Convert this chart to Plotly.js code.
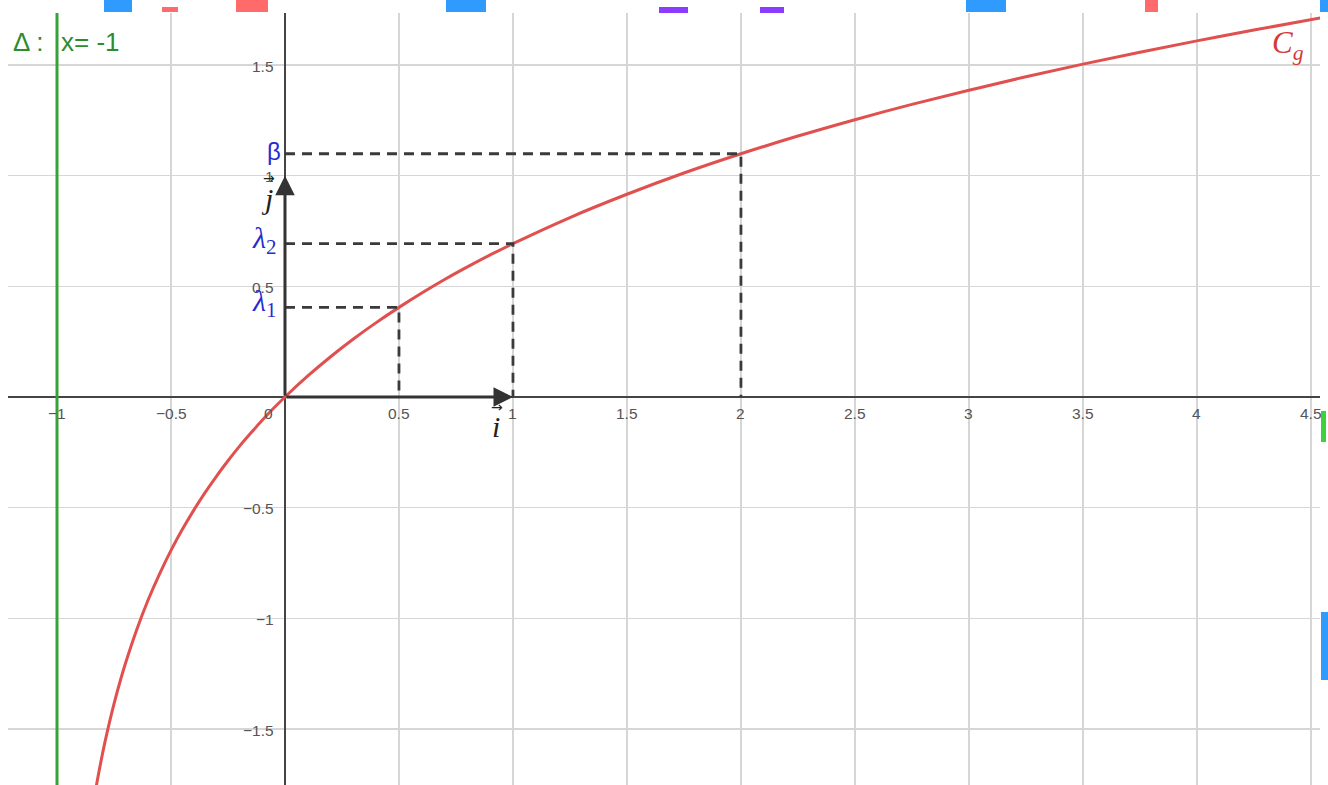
<!DOCTYPE html>
<html>
<head>
<meta charset="utf-8">
<script src="https://cdn.plot.ly/plotly-3.0.1.min.js"></script>
<style>html,body{margin:0;padding:0;background:#fff;}#chart{width:1328px;height:785px;}</style>
</head>
<body>
<div id="chart"></div>
<script>
// curve C_g
var curveX = [-0.83,-0.82,-0.8,-0.78,-0.75,-0.72,-0.7,-0.65,-0.6,-0.55,-0.5,-0.45,-0.4,-0.35,-0.3,-0.25,-0.2,-0.15,-0.1,-0.05,0,0.1,0.2,0.3,0.4,0.5,0.6,0.7,0.8,0.9,1,1.25,1.5,1.75,2,2.25,2.5,2.75,3,3.25,3.5,3.75,4,4.25,4.55];
var curveY = [-1.772,-1.715,-1.609,-1.514,-1.386,-1.273,-1.204,-1.05,-0.916,-0.799,-0.693,-0.598,-0.511,-0.431,-0.357,-0.288,-0.223,-0.163,-0.105,-0.051,0,0.095,0.182,0.262,0.336,0.405,0.47,0.531,0.588,0.642,0.693,0.811,0.916,1.012,1.099,1.179,1.253,1.322,1.386,1.447,1.504,1.558,1.609,1.658,1.714];
// marked points
var markX = [0.5, 1, 2];
var markY = [0.405, 0.693, 1.099];
var markLabels = ['<i>λ</i><sub>1</sub>', '<i>λ</i><sub>2</sub>', 'β'];
// asymptote
var asymX = -1;
var asymLabelA = 'Δ :';
var asymLabelB = 'x= -1';
var curveLabel = '<i>C</i><sub><i>g</i></sub>';
// axis tick labels
var xTicks = [-1,-0.5,0,0.5,1,1.5,2,2.5,3,3.5,4,4.5];
var xTickText = ['−1','−0.5','0','0.5','1','1.5','2','2.5','3','3.5','4','4.5'];
var yTicks = [-1.5,-1,-0.5,0.5,1,1.5];
var yTickText = ['−1.5','−1','−0.5','0.5','1','1.5'];

var W = 1328, H = 785, L = 8, R = 8, T = 13, B = 0;
var pw = W - L - R, ph = H - T - B;
function px(x){ return (x - L) / pw; }
function py(y){ return (H - B - y) / ph; }

var traces = [];
traces.push({x: curveX, y: curveY, mode: 'lines', line: {color: '#e0504e', width: 3, shape: 'spline'}, hoverinfo: 'skip'});
for (var i = 0; i < markX.length; i++) {
  traces.push({x: [0, markX[i], markX[i]], y: [markY[i], markY[i], 0], mode: 'lines',
    line: {color: '#3a3a3a', width: 2.8, dash: '10px,7px'}, hoverinfo: 'skip'});
}

var tickFont = {family: 'Liberation Sans, Arial', size: 15.5, color: '#555'};
var ann = [];
xTickText.forEach(function(t, k){
  ann.push({x: xTicks[k], y: 0, xref: 'x', yref: 'y', text: t, showarrow: false,
    xanchor: 'center', yanchor: 'top', yshift: -6, xshift: xTicks[k] === 0 ? -16 : 0, font: tickFont});
});
yTickText.forEach(function(t, k){
  ann.push({x: 0, y: yTicks[k], xref: 'x', yref: 'y', text: t, showarrow: false,
    xanchor: 'right', yanchor: 'middle', xshift: -9, yshift: -1, font: tickFont});
});
markLabels.forEach(function(t, k){
  var isBeta = t === 'β';
  ann.push({x: 0, y: markY[k], xref: 'x', yref: 'y', text: t, showarrow: false,
    xanchor: 'right', yanchor: 'middle', xshift: isBeta ? -2 : -6, yshift: isBeta ? 2 : 4,
    font: isBeta ? {family: 'Liberation Sans, Arial', size: 24, color: '#2a2ad0'}
                 : {family: 'Liberation Serif, serif', size: 30, color: '#2a2ad0'}});
});
// unit vectors
ann.push({x: 1, y: 0, ax: 0, ay: 0, xref: 'x', yref: 'y', axref: 'x', ayref: 'y', text: '',
  showarrow: true, arrowhead: 2, arrowsize: 1.3, arrowwidth: 3, arrowcolor: '#333', standoff: 0});
ann.push({x: 0, y: 1, ax: 0, ay: 0, xref: 'x', yref: 'y', axref: 'x', ayref: 'y', text: '',
  showarrow: true, arrowhead: 2, arrowsize: 1.3, arrowwidth: 3, arrowcolor: '#333', standoff: 0});
var vecFont = {family: 'Liberation Serif, serif', size: 30, color: '#222'};
var arrFont = {family: 'DejaVu Sans, sans-serif', size: 14, color: '#222'};
ann.push({x: 1, y: 0, xref: 'x', yref: 'y', text: '<i>i</i>', showarrow: false, xanchor: 'center', yanchor: 'middle',
  xshift: -17, yshift: -29, font: vecFont});
ann.push({x: 1, y: 0, xref: 'x', yref: 'y', text: '→', showarrow: false, xanchor: 'center', yanchor: 'middle',
  xshift: -16, yshift: -10, font: arrFont});
ann.push({x: 0, y: 1, xref: 'x', yref: 'y', text: '<i>j</i>', showarrow: false, xanchor: 'center', yanchor: 'middle',
  xshift: -18, yshift: -23, font: vecFont});
ann.push({x: 0, y: 1, xref: 'x', yref: 'y', text: '→', showarrow: false, xanchor: 'center', yanchor: 'middle',
  xshift: -16, yshift: -2, font: arrFont});
// curve label
ann.push({x: px(1306), y: py(45), xref: 'paper', yref: 'paper', text: curveLabel, showarrow: false,
  xanchor: 'right', yanchor: 'middle', font: {family: 'Liberation Serif, serif', size: 31, color: '#d43a3a'}});
// asymptote label
var greenFont = {family: 'Liberation Sans, Arial', size: 26, color: '#2e8b2e'};
ann.push({x: px(11), y: py(42), xref: 'paper', yref: 'paper', text: asymLabelA, showarrow: false,
  xanchor: 'left', yanchor: 'middle', font: greenFont});
ann.push({x: px(59), y: py(42), xref: 'paper', yref: 'paper', text: asymLabelB, showarrow: false,
  xanchor: 'left', yanchor: 'middle', font: greenFont});

var shapes = [];
shapes.push({type: 'line', xref: 'x', yref: 'paper', x0: asymX, x1: asymX, y0: 0, y1: 1,
  line: {color: '#3aa03a', width: 3}});
// clipped fragments at the image edges
function rect(x0, y0, x1, y1, c){
  shapes.push({type: 'rect', xref: 'paper', yref: 'paper', x0: px(x0), x1: px(x1), y0: py(y1), y1: py(y0),
    line: {width: 0}, fillcolor: c, layer: 'above'});
}
rect(104, 0, 132, 12, '#2f9bff');
rect(162, 7, 178, 12, '#ff6b6b');
rect(236, 0, 268, 12, '#ff6b6b');
rect(446, 0, 486, 12, '#2f9bff');
rect(659, 7, 688, 13, '#8c3cff');
rect(760, 7, 784, 13, '#8c3cff');
rect(966, 0, 1006, 12, '#2f9bff');
rect(1145, 0, 1158, 12, '#ff6b6b');
rect(1320, 0, 1328, 12, '#2f9bff');
rect(1321, 411, 1326, 442, '#3cd23c');
rect(1321, 612, 1328, 680, '#2f9bff');

var layout = {
  width: W, height: H,
  margin: {l: L, r: R, t: T, b: B, pad: 0},
  paper_bgcolor: '#ffffff', plot_bgcolor: '#ffffff',
  showlegend: false,
  xaxis: {range: [-1.215, 4.54], dtick: 0.5, tick0: 0, showgrid: true, gridcolor: '#d6d6d6', gridwidth: 1.3,
    zeroline: true, zerolinecolor: '#444', zerolinewidth: 1.6, showticklabels: false, ticks: '', showline: false, fixedrange: true},
  yaxis: {range: [-1.753, 1.735], dtick: 0.5, tick0: 0, showgrid: true, gridcolor: '#d6d6d6', gridwidth: 1.3,
    zeroline: true, zerolinecolor: '#444', zerolinewidth: 1.6, showticklabels: false, ticks: '', showline: false, fixedrange: true},
  annotations: ann,
  shapes: shapes
};
Plotly.newPlot('chart', traces, layout, {displayModeBar: false, staticPlot: true});
</script>
</body>
</html>
